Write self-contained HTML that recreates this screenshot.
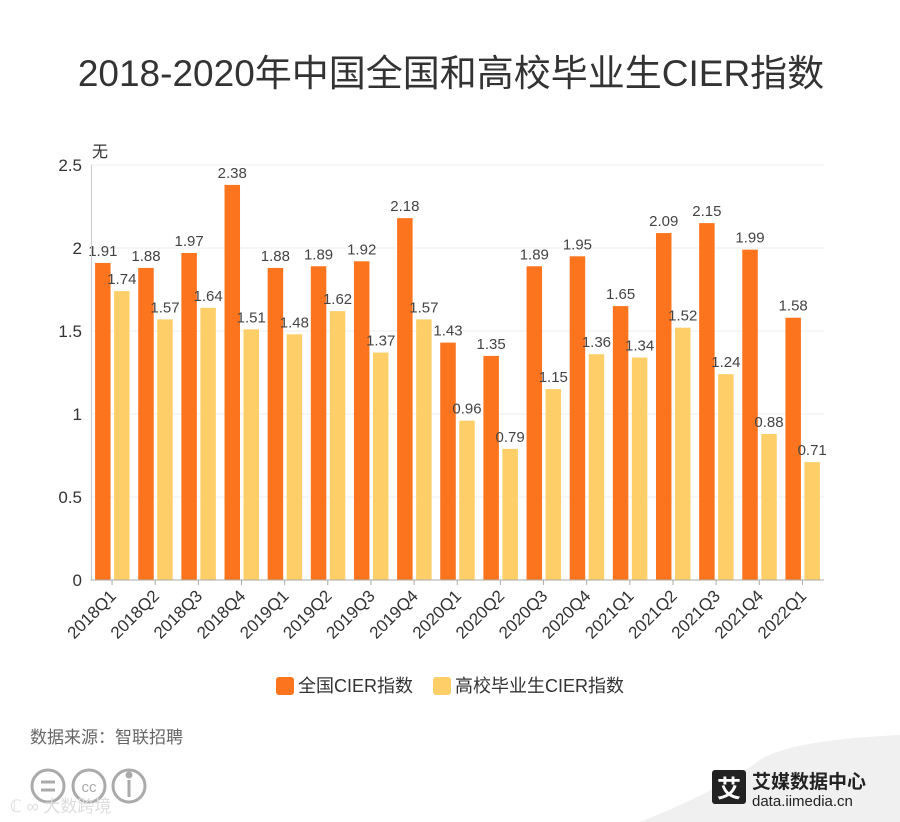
<!DOCTYPE html>
<html><head><meta charset="utf-8"><style>
body{margin:0;background:#fff;font-family:"Liberation Sans","Noto Sans CJK SC",sans-serif;}
#wrap{position:relative;width:900px;height:822px;overflow:hidden;}
</style></head><body>
<div id="wrap">
<svg id="chart" width="900" height="822" style="position:absolute;left:0;top:0">
<text x="451" y="86" text-anchor="middle" font-size="37" fill="#333">2018-2020年中国全国和高校毕业生CIER指数</text>
<text x="92" y="157" font-size="16" fill="#333">无</text>
<g id="grid"></g><g id="bars"></g><g id="axes"></g>
<g>
<rect x="276" y="677" width="18" height="18" rx="3" fill="#fc741e"/>
<text x="298" y="692" font-size="18" fill="#333">全国CIER指数</text>
<rect x="433" y="677" width="18" height="18" rx="3" fill="#fecf68"/>
<text x="455" y="692" font-size="18" fill="#333">高校毕业生CIER指数</text>
</g>
<text x="30" y="743" font-size="17" fill="#666">数据来源：智联招聘</text>
<g fill="none" stroke="#aaa" stroke-width="3">
<circle cx="48" cy="786" r="16"/><circle cx="89" cy="786" r="16"/><circle cx="129" cy="786" r="16"/>
<line x1="41" y1="782" x2="55" y2="782"/><line x1="41" y1="790" x2="55" y2="790"/>
<text x="89" y="792" font-size="15" fill="#aaa" stroke="none" text-anchor="middle">cc</text>
<line x1="129" y1="780" x2="129" y2="797"/><circle cx="129" cy="775" r="2" fill="#aaa"/>
</g>
<text x="10" y="812" font-size="17" fill="#ddd">ℂ ∞ 大数跨境</text>
<path d="M640 822 Q720 790 760 760 Q790 740 900 735 L900 822 Z" fill="#f0f0f0"/>
<rect x="712" y="770" width="34" height="34" rx="3" fill="#222"/>
<text x="729" y="797" font-size="24" fill="#fff" text-anchor="middle" font-weight="bold">艾</text>
<text x="752" y="788" font-size="19" fill="#222" font-weight="bold">艾媒数据中心</text>
<text x="752" y="806" font-size="15" fill="#222">data.iimedia.cn</text>
</svg>
</div>
<script>
const categories=["2018Q1","2018Q2","2018Q3","2018Q4","2019Q1","2019Q2","2019Q3","2019Q4","2020Q1","2020Q2","2020Q3","2020Q4","2021Q1","2021Q2","2021Q3","2021Q4","2022Q1"];
const nationalValues=[1.91,1.88,1.97,2.38,1.88,1.89,1.92,2.18,1.43,1.35,1.89,1.95,1.65,2.09,2.15,1.99,1.58];
const graduateValues=[1.74,1.57,1.64,1.51,1.48,1.62,1.37,1.57,0.96,0.79,1.15,1.36,1.34,1.52,1.24,0.88,0.71];
const yTicks=[0,0.5,1,1.5,2,2.5];
const yTickLabels=["0","0.5","1","1.5","2","2.5"];
const NS="http://www.w3.org/2000/svg";
const x0=90.5,x1=824,y0=580,yTop=165,yMax=2.5;
const bw=(x1-x0)/categories.length;
const yS=v=>y0-(v/yMax)*(y0-yTop);
const xC=i=>x0+bw*(i+0.5);
function mk(tag,attrs,parent){const e=document.createElementNS(NS,tag);for(const k in attrs)e.setAttribute(k,attrs[k]);document.getElementById(parent).appendChild(e);return e;}
yTicks.forEach((t,i)=>{
  if(t>0){const g=mk('line',{x1:x0,x2:x1,y1:yS(t),y2:yS(t),stroke:'#eee'},'grid');
  
  }
  const l=mk('text',{x:82,y:yS(t)+6,'text-anchor':'end','font-size':17,fill:'#333'},'axes');
  l.textContent=yTickLabels[i];
  
  
});
const ya=mk('line',{x1:x0+1,x2:x0+1,y1:yTop,y2:y0,stroke:'#ccc'},'axes');


const xa=mk('line',{x1:x0,x2:x1,y1:y0,y2:y0,stroke:'#aaa'},'axes');


categories.forEach((c,i)=>{
  const cx=xC(i);
  const tk=mk('line',{x1:cx,x2:cx,y1:y0,y2:y0+5,stroke:'#aaa'},'axes');
  
  
  const lb=mk('text',{x:cx+5,y:y0+17,'text-anchor':'end','font-size':17,fill:'#333',transform:`rotate(-45 ${cx+5} ${y0+17})`},'axes');
  lb.textContent=c;
  
  
  [[nationalValues[i],'#fc741e',cx-17,'bar-national'],[graduateValues[i],'#fecf68',cx+2,'bar-graduates']].forEach(([v,col,bx,nm])=>{
    const r=mk('rect',{x:bx,y:yS(v),width:15.5,height:y0-yS(v),fill:col},'bars');
    
    
    const t=mk('text',{x:bx+7.75,y:yS(v)-7,'text-anchor':'middle','font-size':15,fill:'#444'},'bars');
    t.textContent=v.toFixed(2);
    
    
  });
});
</script>
</body></html>
